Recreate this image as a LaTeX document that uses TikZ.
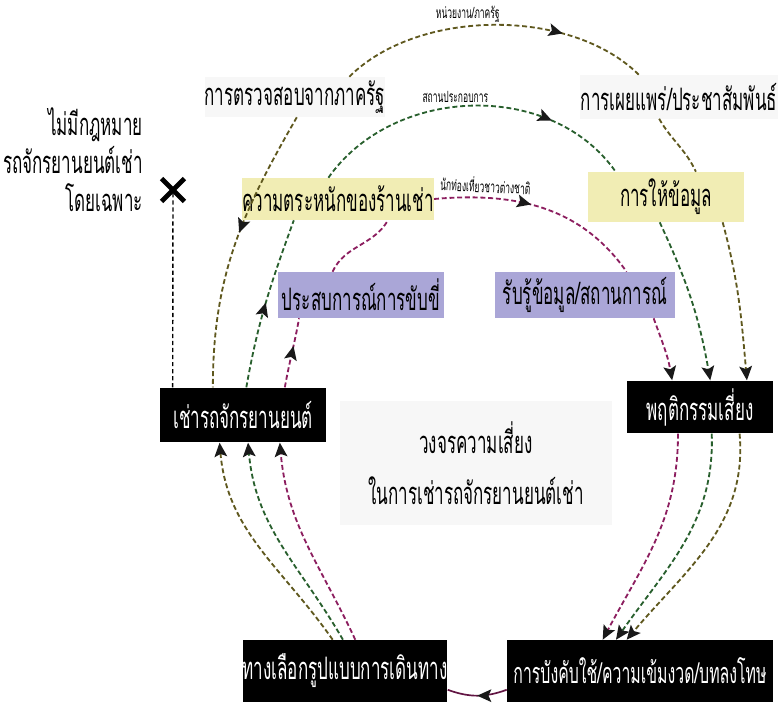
\documentclass[tikz,border=0pt]{standalone}
\usepackage{fontspec}
\setmainfont[Script=Thai,FakeStretch=0.55]{Loma}
\usetikzlibrary{arrows.meta,positioning,decorations.markings,calc,shapes.misc}
\definecolor{ringout}{RGB}{95,88,30}
\definecolor{ringmid}{RGB}{40,95,45}
\definecolor{ringin}{RGB}{140,30,95}
\definecolor{boxyel}{RGB}{241,237,180}
\definecolor{boxlav}{RGB}{170,166,215}

\begin{document}
\begin{tikzpicture}[x=0.025cm, y=0.025cm, >={Stealth[length=10pt,width=9pt,inset=2pt,color=black!90]},
  darkbox/.style={fill=black, text=white, font=\fontsize{22}{24}\selectfont, inner sep=0pt},
  yelbox/.style={fill=boxyel, font=\fontsize{22}{24}\selectfont, inner sep=0pt},
  lavbox/.style={fill=boxlav, font=\fontsize{22}{24}\selectfont, inner sep=0pt},
  palebox/.style={fill=black!3, font=\fontsize{22}{24}\selectfont, inner sep=0pt},
  lbl/.style={font=\fontsize{11}{12}\selectfont, inner sep=1pt},
  ringln/.style={line width=1.3pt, dash pattern=on 3.5pt off 2pt},
  outln/.style={ringln, draw=ringout},
  midln/.style={ringln, draw=ringmid},
  inln/.style={ringln, draw=ringin},
  midarr/.style={postaction={decorate}, decoration={markings, mark=at position #1 with {\arrow{>}}}}]
  \useasboundingbox (0,0) rectangle (782,-704);

  % boxes
  \node[palebox, minimum width=4.5cm, minimum height=1cm] (check) at (295,-97) {การตรวจสอบจากภาครัฐ};
  \node[palebox, minimum width=4.95cm, minimum height=1.075cm] (publ) at (679,-97) {การเผยแพร่/ประชาสัมพันธ์};
  \node[yelbox, minimum width=4.42cm, minimum height=1.05cm] (aware) at (338,-199) {ความตระหนักของร้านเช่า};
  \node[yelbox, minimum width=3.92cm, minimum height=1.25cm] (info) at (666,-197) {การให้ข้อมูล};
  \node[lavbox, minimum width=4.17cm, minimum height=1.15cm] (exper) at (361,-295) {ประสบการณ์การขับขี่};
  \node[lavbox, minimum width=4.5cm, minimum height=1.15cm] (perc) at (585,-295) {รับรู้ข้อมูล/สถานการณ์};
  \node[darkbox, minimum width=4.17cm, minimum height=1.37cm] (rent) at (243,-415) {เช่ารถจักรยานยนต์};
  \node[darkbox, minimum width=3.65cm, minimum height=1.32cm] (risk) at (700,-407) {พฤติกรรมเสี่ยง};
  \node[palebox, minimum width=6.8cm, minimum height=3.1cm, align=center, font=\fontsize{22}{36}\selectfont] (title) at (476,-463) {วงจรความเสี่ยง\\ในการเช่ารถจักรยานยนต์เช่า};
  \node[darkbox, minimum width=4.9cm, minimum height=1.55cm] (choice) at (345,-671) {ทางเลือกรูปแบบการเดินทาง};
  \node[darkbox, minimum width=6.65cm, minimum height=1.55cm, font=\fontsize{20.5}{24}\selectfont] (enf) at (640,-671) {การบังคับใช้/ความเข้มงวด/บทลงโทษ};

  % no specific law
  \node[anchor=east, align=right, font=\fontsize{22}{27}\selectfont, inner sep=0pt] (lawtxt) at (143,-160) {ไม่มีกฎหมาย\\รถจักรยานยนต์เช่า\\โดยเฉพาะ};
  \node[cross out, draw, line width=3.5pt, minimum size=0.45cm] (nolaw) at (173,-190) {};
  \draw[line width=1pt, dash pattern=on 3pt off 2pt] ($(rent.north west)!0.08!(rent.north east)$) -- (nolaw.center);

  % outer ring
  \draw[outln, midarr=0.45] ($(check.south west)!0.51!(check.south east)$) to[out=240,in=90] ($(rent.north west)!0.32!(rent.north east)$);
  \draw[outln, midarr=0.72] ($(check.north west)!0.8!(check.north east)$) to[out=45,in=135,looseness=0.85] node[pos=0.42, above=1pt, lbl] (lblgov) {หน่วยงาน/ภาครัฐ} ($(publ.north west)!0.3!(publ.north east)$);
  \draw[outln] ($(publ.south west)!0.4!(publ.south east)$) to[out=-60,in=115] ($(info.north west)!0.69!(info.north east)$);
  \draw[outln,->] ($(info.south west)!0.86!(info.south east)$) to[out=-75,in=95] ($(risk.north west)!0.82!(risk.north east)$);
  \draw[outln,->] ($(risk.south west)!0.77!(risk.south east)$) to[out=-85,in=50] ($(enf.north west)!0.45!(enf.north east)$);
  \draw[outln,->] ($(choice.north west)!0.44!(choice.north east)$) to[out=125,in=-85] ($(rent.south west)!0.36!(rent.south east)$);

  % middle ring
  \draw[midln, midarr=0.5] ($(rent.north west)!0.52!(rent.north east)$) to[out=80,in=-110] ($(aware.south west)!0.27!(aware.south east)$);
  \draw[midln, midarr=0.75] ($(aware.north west)!0.45!(aware.north east)$) to[out=55,in=125] node[pos=0.45, above=1pt, lbl] (lblbiz) {สถานประกอบการ} ($(info.north west)!0.18!(info.north east)$);
  \draw[midln,->] ($(info.south west)!0.46!(info.south east)$) to[out=-65,in=100] ($(risk.north west)!0.57!(risk.north east)$);
  \draw[midln,->] ($(risk.south west)!0.58!(risk.south east)$) to[out=-88,in=55] ($(enf.north west)!0.41!(enf.north east)$);
  \draw[midln,->] ($(choice.north west)!0.49!(choice.north east)$) to[out=120,in=-85] ($(rent.south west)!0.53!(rent.south east)$);

  % inner ring
  \draw[inln, midarr=0.6] ($(rent.north west)!0.75!(rent.north east)$) to[out=80,in=-100] ($(exper.south west)!0.13!(exper.south east)$);
  \draw[inln] ($(exper.north west)!0.33!(exper.north east)$) to[out=65,in=-120] ($(aware.south west)!0.76!(aware.south east)$);
  \draw[inln, midarr=0.45] (aware.east) to[out=5,in=125] node[pos=0.22, above=2pt, sloped, lbl] (lbltour) {นักท่องเที่ยวชาวต่างชาติ} ($(perc.north west)!0.73!(perc.north east)$);
  \draw[inln,->] ($(perc.south west)!0.88!(perc.south east)$) to[out=-70,in=100] ($(risk.north west)!0.31!(risk.north east)$);
  \draw[inln,->] ($(risk.south west)!0.35!(risk.south east)$) to[out=-90,in=62] ($(enf.north west)!0.36!(enf.north east)$);
  \draw[inln,->] ($(choice.north west)!0.55!(choice.north east)$) to[out=115,in=-85] ($(rent.south west)!0.72!(rent.south east)$);

  % enforcement to travel choice
  \draw[draw=ringin!70!black, line width=1.2pt, midarr=0.5] ($(enf.south west)!0.2!(enf.north west)$) to[out=200,in=-20] ($(choice.south east)!0.2!(choice.north east)$);
\end{tikzpicture}
\end{document}
